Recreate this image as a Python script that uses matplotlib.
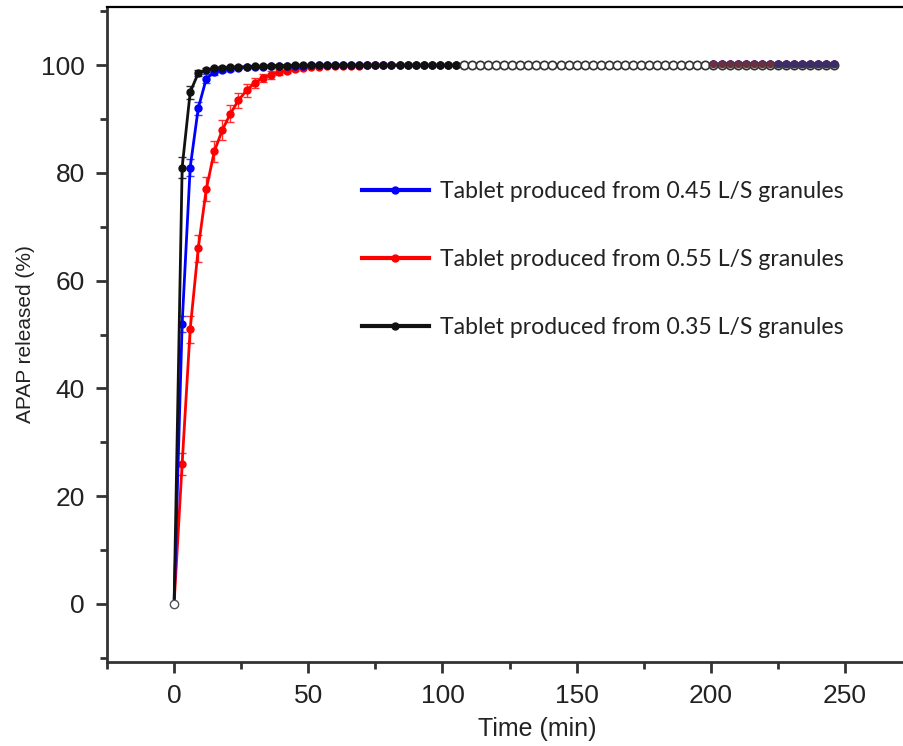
import matplotlib
matplotlib.use("Agg")
import matplotlib.pyplot as plt
from matplotlib.ticker import MultipleLocator

# sampling times (min)
time_min = [0, 3, 6, 9, 12, 15, 18, 21, 24, 27, 30, 33, 36, 39, 42, 45, 48, 51, 54, 57,
            60, 63, 66, 69, 72, 75, 78, 81, 84, 87, 90, 93, 96, 99, 102, 105, 108, 111, 114, 117,
            120, 123, 126, 129, 132, 135, 138, 141, 144, 147, 150, 153, 156, 159, 162, 165, 168, 171, 174, 177,
            180, 183, 186, 189, 192, 195, 198, 201, 204, 207, 210, 213, 216, 219, 222, 225, 228, 231, 234, 237,
            240, 243, 246]

# % APAP released
release_045 = [0, 52, 81, 92, 97.5, 98.7, 99.1, 99.3, 99.5, 99.6, 99.7, 99.7, 99.8, 99.8, 99.9, 99.9, 99.9, 100.0, 100.0, 100.0,
               100.0, 100.0, 100.0, 100.0, 100.0, 100.0, 100.0, 100.0, 100.0, 100.0, 100.0, 100.0, 100.0, 100.0, 100.0, 100.0, 100.0, 100.0, 100.0, 100.0,
               100.0, 100.0, 100.0, 100.0, 100.0, 100.0, 100.0, 100.0, 100.1, 100.1, 100.1, 100.1, 100.1, 100.1, 100.1, 100.1, 100.1, 100.1, 100.1, 100.1,
               100.1, 100.1, 100.1, 100.1, 100.1, 100.1, 100.1, 100.2, 100.2, 100.2, 100.2, 100.2, 100.2, 100.2, 100.2, 100.2, 100.2, 100.2, 100.2, 100.2,
               100.2, 100.2, 100.2]
release_055 = [0, 26, 51, 66, 77, 84, 88, 91, 93.5, 95.3, 96.7, 97.6, 98.2, 98.7, 99.0, 99.3, 99.5, 99.6, 99.7, 99.8,
               99.8, 99.9, 99.9, 99.9, 100.0, 100.0, 100.0, 100.0, 100.0, 100.0, 100.0, 100.0, 100.0, 100.0, 100.0, 100.0, 100.0, 100.0, 100.0, 100.0,
               100.0, 100.0, 100.0, 100.0, 100.0, 100.0, 100.0, 100.0, 100.1, 100.1, 100.1, 100.1, 100.1, 100.1, 100.1, 100.1, 100.1, 100.1, 100.1, 100.1,
               100.1, 100.1, 100.1, 100.1, 100.1, 100.1, 100.1, 100.2, 100.2, 100.2, 100.2, 100.2, 100.2, 100.2, 100.2, 100.2, 100.2, 100.2, 100.2, 100.2,
               100.2, 100.2, 100.2]
release_035 = [0, 81, 95, 98.5, 99.1, 99.4, 99.5, 99.6, 99.7, 99.7, 99.8, 99.8, 99.9, 99.9, 99.9, 100.0, 100.0, 100.0, 100.0, 100.0,
               100.0, 100.0, 100.0, 100.0, 100.0, 100.0, 100.0, 100.0, 100.0, 100.0, 100.0, 100.0, 100.0, 100.0, 100.0, 100.0, 100.0, 100.0, 100.0, 100.0,
               100.0, 100.0, 100.0, 100.0, 100.0, 100.0, 100.0, 100.0, 100.0, 100.0, 100.0, 100.0, 100.0, 100.0, 100.0, 100.0, 100.0, 100.0, 100.0, 100.0,
               100.0, 100.0, 100.0, 100.1, 100.1, 100.1, 100.1, 100.1, 100.1, 100.1, 100.1, 100.1, 100.1, 100.1, 100.1, 100.1, 100.1, 100.1, 100.1, 100.1,
               100.1, 100.1, 100.1]

# standard deviations for the early (rising) points only
err_n = 16
err_045 = [0, 1.5, 1.5, 1.2, 0.8, 0.5, 0.4, 0.3, 0.3, 0.2, 0.2, 0.2, 0.2, 0.2, 0.2, 0.2]
err_055 = [0, 2.0, 2.5, 2.5, 2.2, 2.0, 1.8, 1.6, 1.4, 1.2, 1.0, 0.8, 0.7, 0.6, 0.5, 0.4]
err_035 = [0, 2.0, 1.2, 0.6, 0.4, 0.3, 0.3, 0.2, 0.2, 0.2, 0.2, 0.2, 0.2, 0.2, 0.2, 0.2]

labels = ["Tablet produced from 0.45 L/S granules",
          "Tablet produced from 0.55 L/S granules",
          "Tablet produced from 0.35 L/S granules"]

plt.rcParams["font.family"] = ["Liberation Sans", "DejaVu Sans"]

fig = plt.figure(figsize=(9.04, 7.46), dpi=100)
ax = fig.add_axes([107 / 904, 84 / 746, 797 / 904, 655 / 746])

# error bars (only visible on the rising part)
ax.errorbar(time_min[:err_n], release_055[:err_n], yerr=err_055, fmt="none",
            ecolor="#ff3030", elinewidth=1, capsize=3, zorder=2)
ax.errorbar(time_min[:err_n], release_045[:err_n], yerr=err_045, fmt="none",
            ecolor="#4040ff", elinewidth=1, capsize=3, zorder=2)
ax.errorbar(time_min[:err_n], release_035[:err_n], yerr=err_035, fmt="none",
            ecolor="#303030", elinewidth=1, capsize=3, zorder=2)

h_red, = ax.plot(time_min, release_055, color="#ff0000", lw=2, marker="o",
                 markersize=5, zorder=3)
h_blue, = ax.plot(time_min, release_045, color="#0000ff", lw=2, marker="o",
                  markersize=5, zorder=4)
# black: filled markers at the start, open circles on the plateau
n_filled = 36
h_black, = ax.plot(time_min[:n_filled + 1], release_035[:n_filled + 1], color="#111111",
                   lw=2, marker="o", markersize=5, zorder=5)
ax.plot(time_min[n_filled:], release_035[n_filled:], color="#222222", lw=1.0,
        marker="o", markersize=6, markerfacecolor="white", markeredgecolor="#333333",
        markeredgewidth=1.2, zorder=5)
ax.plot(time_min[:1], release_035[:1], ls="none", marker="o", markersize=6,
        markerfacecolor="white", markeredgecolor="#555555", zorder=6)
# last samples of the red and blue runs show on top
n_tail = 67
ax.plot(time_min[n_tail:], release_055[n_tail:], color="#6a3040", lw=1.2, marker="o",
        markersize=4.5, zorder=7)
ax.plot(time_min[n_tail + 8:], release_045[n_tail + 8:], color="#3a2e6a", lw=1.2, marker="o",
        markersize=4.5, zorder=8)

ax.set_xlim(-25, 272)
ax.set_ylim(-10.8, 110.8)
ax.xaxis.set_major_locator(MultipleLocator(50))
ax.xaxis.set_minor_locator(MultipleLocator(25))
ax.yaxis.set_major_locator(MultipleLocator(20))
ax.yaxis.set_minor_locator(MultipleLocator(10))

ax.spines["right"].set_visible(False)
ax.spines["left"].set_linewidth(2.0)
ax.spines["bottom"].set_linewidth(2.0)
ax.spines["top"].set_linewidth(1.6)
ax.spines["left"].set_color("#333333")
ax.spines["bottom"].set_color("#333333")

ax.tick_params(axis="both", which="major", direction="out", length=8, width=2,
               color="#333333", labelsize=19, labelcolor="#222222", pad=8)
ax.tick_params(axis="both", which="minor", direction="out", length=5, width=2,
               color="#333333")
ax.tick_params(top=False, right=False, which="both")

ax.set_xlabel("Time (min)", fontsize=18, color="#222222")
ax.set_ylabel("APAP released (%)", fontsize=15, color="#222222")
ax.xaxis.set_label_coords((537 - 107) / 797, -0.084)
ax.yaxis.set_label_coords(-0.09, 0.5)

leg = ax.legend([h_blue, h_red, h_black], labels, loc="upper left",
                bbox_to_anchor=((341 - 107) / 797, (746 - 84 - 160) / 655),
                frameon=False, numpoints=1, handlelength=2.9, handletextpad=0.5,
                labelspacing=2.05, prop={"family": "Lato", "size": 16.6})
for txt in leg.get_texts():
    txt.set_color("#222222")
for line in leg.get_lines():
    line.set_linewidth(3)

fig.savefig("out.png", dpi=100)
